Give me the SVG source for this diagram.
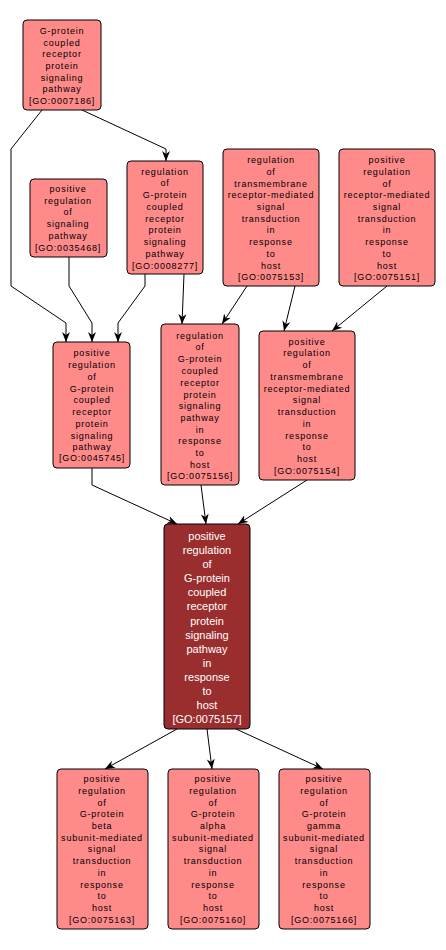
<svg xmlns="http://www.w3.org/2000/svg" width="446" height="950" viewBox="0 0 446 950">
<style>
.n rect{fill:#ff8a8a;stroke:#000;stroke-width:1}
.n text{font-family:"Liberation Sans",Arial,sans-serif;font-size:9px;fill:#000;text-anchor:middle;letter-spacing:0.8px}
.m rect{fill:#9a2e2e;stroke:#000;stroke-width:1}
.m text{font-family:"Liberation Sans",Arial,sans-serif;font-size:11px;fill:#fff;text-anchor:middle}
.e path{fill:none;stroke:#000;stroke-width:1;marker-end:url(#a)}
</style>
<defs>
<marker id="a" viewBox="0 0 10 10" refX="10" refY="5" markerWidth="10" markerHeight="10" markerUnits="userSpaceOnUse" orient="auto">
<path d="M0,1 L10,5 L0,9 L3,5 Z" fill="#000"/>
</marker>
</defs>
<g class="e" id="edges">
<path d="M42,110 L11,149 L11,286 L66,323 L66,342"/>
<path d="M82,110 L166,149 L166,161"/>
<path d="M69,257 L69,286 L92,323 L92,342"/>
<path d="M145,274 L145,286 L118,323 L118,342"/>
<path d="M184,274 L182,324"/>
<path d="M247,286 L222,324"/>
<path d="M295,286 L284,331"/>
<path d="M387,286 L332,331"/>
<path d="M92,468 L92,485 L177,524"/>
<path d="M201,485 L206,524"/>
<path d="M307,480 L238,524"/>
<path d="M177,729 L105,769"/>
<path d="M207,729 L212,769"/>
<path d="M236,729 L323,769"/>
</g>
<g class="n" id="GO0007186">
<rect x="23" y="20" width="78" height="90" rx="4"/>
<text x="62" y="34">G-protein</text><text x="62" y="46">coupled</text><text x="62" y="57">receptor</text><text x="62" y="69">protein</text><text x="62" y="81">signaling</text><text x="62" y="92">pathway</text><text x="62" y="104">[GO:0007186]</text>
</g>
<g class="n" id="GO0035468">
<rect x="30" y="179" width="77" height="78" rx="4"/>
<text x="68" y="192">positive</text><text x="68" y="204">regulation</text><text x="68" y="215">of</text><text x="68" y="227">signaling</text><text x="68" y="239">pathway</text><text x="68" y="251">[GO:0035468]</text>
</g>
<g class="n" id="GO0008277">
<rect x="127" y="161" width="76" height="113" rx="4"/>
<text x="165" y="175">regulation</text><text x="165" y="186">of</text><text x="165" y="198">G-protein</text><text x="165" y="210">coupled</text><text x="165" y="222">receptor</text><text x="165" y="233">protein</text><text x="165" y="245">signaling</text><text x="165" y="257">pathway</text><text x="165" y="269">[GO:0008277]</text>
</g>
<g class="n" id="GO0075153">
<rect x="223" y="149" width="96" height="137" rx="4"/>
<text x="271" y="163">regulation</text><text x="271" y="175">of</text><text x="271" y="187">transmembrane</text><text x="271" y="198">receptor-mediated</text><text x="271" y="210">signal</text><text x="271" y="222">transduction</text><text x="271" y="233">in</text><text x="271" y="245">response</text><text x="271" y="257">to</text><text x="271" y="269">host</text><text x="271" y="280">[GO:0075153]</text>
</g>
<g class="n" id="GO0075151">
<rect x="339" y="149" width="96" height="137" rx="4"/>
<text x="387" y="163">positive</text><text x="387" y="175">regulation</text><text x="387" y="187">of</text><text x="387" y="198">receptor-mediated</text><text x="387" y="210">signal</text><text x="387" y="222">transduction</text><text x="387" y="233">in</text><text x="387" y="245">response</text><text x="387" y="257">to</text><text x="387" y="269">host</text><text x="387" y="280">[GO:0075151]</text>
</g>
<g class="n" id="GO0045745">
<rect x="53" y="342" width="77" height="126" rx="4"/>
<text x="92" y="356">positive</text><text x="92" y="368">regulation</text><text x="92" y="380">of</text><text x="92" y="392">G-protein</text><text x="92" y="403">coupled</text><text x="92" y="415">receptor</text><text x="92" y="427">protein</text><text x="92" y="439">signaling</text><text x="92" y="450">pathway</text><text x="92" y="461">[GO:0045745]</text>
</g>
<g class="n" id="GO0075156">
<rect x="161" y="324" width="78" height="161" rx="4"/>
<text x="200" y="339">regulation</text><text x="200" y="350">of</text><text x="200" y="362">G-protein</text><text x="200" y="374">coupled</text><text x="200" y="386">receptor</text><text x="200" y="398">protein</text><text x="200" y="409">signaling</text><text x="200" y="421">pathway</text><text x="200" y="433">in</text><text x="200" y="444">response</text><text x="200" y="456">to</text><text x="200" y="468">host</text><text x="200" y="479">[GO:0075156]</text>
</g>
<g class="n" id="GO0075154">
<rect x="259" y="331" width="96" height="149" rx="4"/>
<text x="307" y="345">positive</text><text x="307" y="356">regulation</text><text x="307" y="368">of</text><text x="307" y="380">transmembrane</text><text x="307" y="392">receptor-mediated</text><text x="307" y="403">signal</text><text x="307" y="415">transduction</text><text x="307" y="427">in</text><text x="307" y="439">response</text><text x="307" y="450">to</text><text x="307" y="462">host</text><text x="307" y="474">[GO:0075154]</text>
</g>
<g class="m" id="GO0075157">
<rect x="164" y="524" width="86" height="205" rx="4"/>
<text x="207" y="540">positive</text><text x="207" y="554">regulation</text><text x="207" y="568">of</text><text x="207" y="582">G-protein</text><text x="207" y="596">coupled</text><text x="207" y="610">receptor</text><text x="207" y="625">protein</text><text x="207" y="639">signaling</text><text x="207" y="653">pathway</text><text x="207" y="667">in</text><text x="207" y="681">response</text><text x="207" y="695">to</text><text x="207" y="709">host</text><text x="207" y="723">[GO:0075157]</text>
</g>
<g class="n" id="GO0075163">
<rect x="57" y="769" width="91" height="160" rx="4"/>
<text x="102" y="782">positive</text><text x="102" y="794">regulation</text><text x="102" y="806">of</text><text x="102" y="817">G-protein</text><text x="102" y="829">beta</text><text x="102" y="841">subunit-mediated</text><text x="102" y="852">signal</text><text x="102" y="864">transduction</text><text x="102" y="876">in</text><text x="102" y="888">response</text><text x="102" y="899">to</text><text x="102" y="911">host</text><text x="102" y="923">[GO:0075163]</text>
</g>
<g class="n" id="GO0075160">
<rect x="168" y="769" width="91" height="160" rx="4"/>
<text x="213" y="782">positive</text><text x="213" y="794">regulation</text><text x="213" y="806">of</text><text x="213" y="817">G-protein</text><text x="213" y="829">alpha</text><text x="213" y="841">subunit-mediated</text><text x="213" y="852">signal</text><text x="213" y="864">transduction</text><text x="213" y="876">in</text><text x="213" y="888">response</text><text x="213" y="899">to</text><text x="213" y="911">host</text><text x="213" y="923">[GO:0075160]</text>
</g>
<g class="n" id="GO0075166">
<rect x="279" y="769" width="91" height="160" rx="4"/>
<text x="324" y="782">positive</text><text x="324" y="794">regulation</text><text x="324" y="806">of</text><text x="324" y="817">G-protein</text><text x="324" y="829">gamma</text><text x="324" y="841">subunit-mediated</text><text x="324" y="852">signal</text><text x="324" y="864">transduction</text><text x="324" y="876">in</text><text x="324" y="888">response</text><text x="324" y="899">to</text><text x="324" y="911">host</text><text x="324" y="923">[GO:0075166]</text>
</g>
</svg>
